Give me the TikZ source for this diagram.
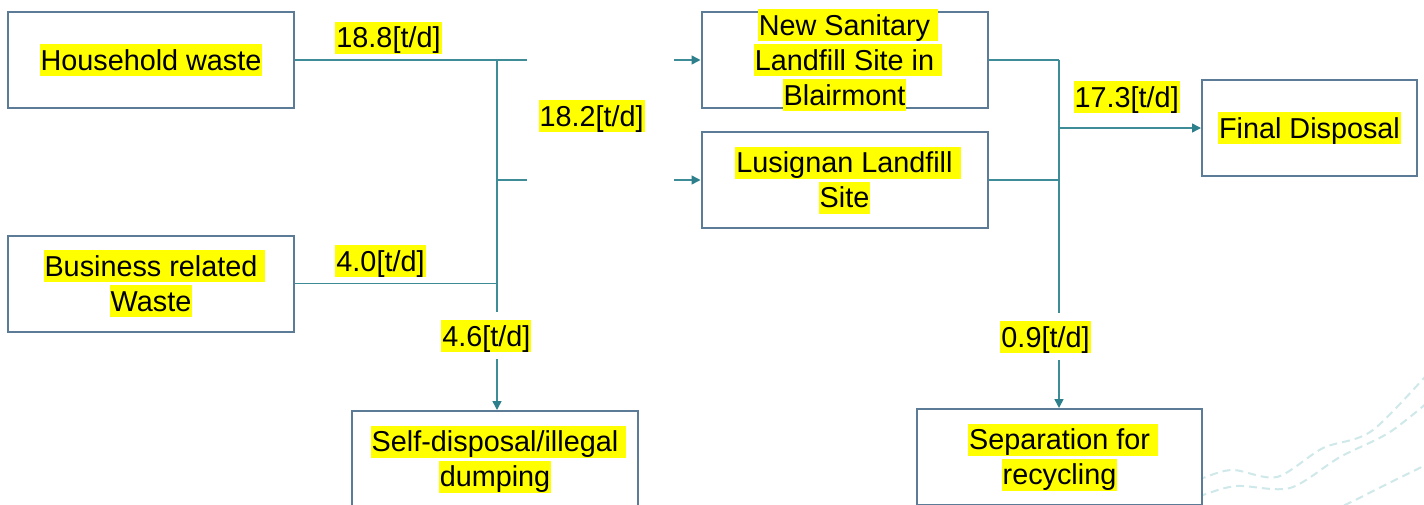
\documentclass[tikz,border=0pt]{standalone}
\usepackage{fontspec}
\setmainfont{Liberation Sans}
\usetikzlibrary{arrows.meta}
\definecolor{boxc}{HTML}{5B7B96}
\definecolor{linec}{HTML}{3E8C97}
\definecolor{tipc}{HTML}{2D7F8B}
\definecolor{wavec}{HTML}{CFE8E9}
\definecolor{hlc}{HTML}{FFFF00}
\newcommand\hlstrut{\rule[-6pt]{0pt}{32pt}}
\newcommand\hl[1]{{\setlength\fboxsep{0pt}\colorbox{hlc}{\hlstrut\hspace{1pt}#1\hspace{1pt}}}}
\newcommand\hls[1]{{\setlength\fboxsep{0pt}\colorbox{hlc}{\hlstrut\hspace{1pt}#1\hspace{1pt}}\rlap{\colorbox{hlc}{\hlstrut\hspace{7pt}}}}}
\begin{document}
\begin{tikzpicture}[x=1pt,y=-1pt,
  txt/.style={font=\fontsize{28.8}{35}\selectfont, align=center, inner sep=0pt},
  box/.style={txt, draw=boxc, line width=2pt, fill=white, minimum width=286pt, minimum height=96pt},
  lbl/.style={txt},
  conn/.style={draw=linec, line width=1.5pt},
  arr/.style={conn, -{Triangle[length=9pt,width=9pt,color=tipc]}},
  wave/.style={draw=wavec, line width=2pt, dash pattern=on 8pt off 5pt}]
\path[use as bounding box] (0,0) rectangle (1424,504);
\clip (0,0) rectangle (1424,504);
% decorative waves
\draw[wave] plot[smooth] coordinates {(1150,500) (1203,478) (1233,470) (1277,477) (1323,448) (1373,430) (1440,360)};
\draw[wave] plot[smooth] coordinates {(1150,515) (1203,495) (1237,486) (1290,488) (1340,457) (1390,432) (1440,392)};
\draw[wave] plot[smooth] coordinates {(1320,515) (1347,504) (1385,485) (1440,458)};
% boxes
\node[box] (hh) at (151,60) {\hl{Household waste}};
\node[box] (bus) at (151,283.5) {\hls{Business related}\\\hl{Waste}};
\node[box, inner ysep=-3pt] (nsl) at (844.5,60) {\hls{New Sanitary}\\\hls{Landfill Site in}\\\hl{Blairmont}};
\node[box] (lus) at (844.5,180) {\hls{Lusignan Landfill}\\\hl{Site}};
\node[box, minimum width=215pt] (fd) at (1309.5,128) {\hl{Final Disposal}};
\node[box] (self) at (495,459) {\hls{Self-disposal/illegal}\\\hl{dumping}};
\node[box, minimum width=285pt] (sep) at (1059.5,457) {\hls{Separation for}\\\hl{recycling}};
% labels
\node[lbl] (l188) at (388.5,37.5) {\hl{18.8[t/d]}};
\node[lbl] (l40) at (380.5,261) {\hl{4.0[t/d]}};
\node[lbl] (l182) at (591.7,116.3) {\hl{18.2[t/d]}};
\node[lbl] (l46) at (486.3,336) {\hl{4.6[t/d]}};
\node[lbl] (l173) at (1126.7,97) {\hl{17.3[t/d]}};
\node[lbl] (l09) at (1045.5,337) {\hl{0.9[t/d]}};
% junctions
\coordinate (j1) at (497,60);
\coordinate (j2) at (497,283.5);
\coordinate (j3) at (497,180);
\coordinate (a1) at (527,60);
\coordinate (a2) at (674,60);
\coordinate (a3) at (527,180);
\coordinate (a4) at (674,180);
\coordinate (k1) at (1059,60);
\coordinate (k2) at (1059,180);
\coordinate (k3) at (1059,128);
% left connectors
\draw[conn] (hh.east) -- (j1);
\draw[conn] (bus.east) -- (j2);
\draw[conn, shorten >=8pt] (j1) -- (j1 |- l46.north);
\draw[arr, shorten <=7pt] (j1 |- l46.south) -- (j1 |- self.north);
\draw[conn] (j1) -- (a1);
\draw[arr] (a2) -- (nsl.west);
\draw[conn] (j3) -- (a3);
\draw[arr] (a4) -- (lus.west);
% right connectors
\draw[conn] (nsl.east) -- (k1);
\draw[conn] (lus.east) -- (k2);
\draw[conn, shorten >=8pt] (k1) -- (k1 |- l09.north);
\draw[arr, shorten <=7pt] (k1 |- l09.south) -- (k1 |- sep.north);
\draw[arr] (k3) -- (fd.west);
\end{tikzpicture}
\end{document}
